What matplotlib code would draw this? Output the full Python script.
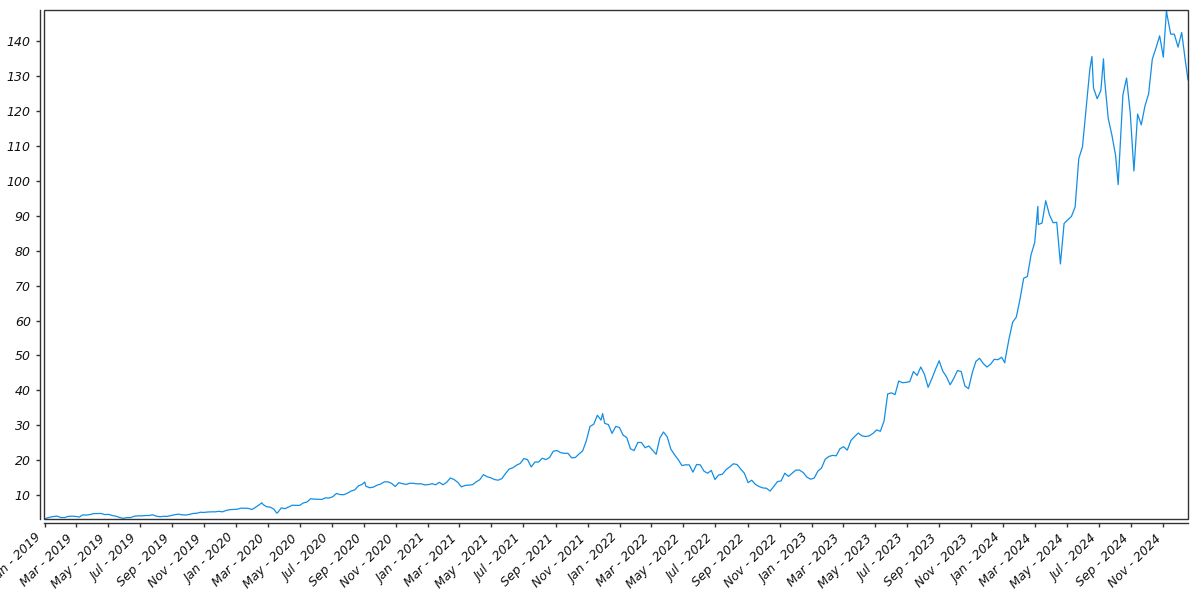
import os
import matplotlib
matplotlib.use("Agg")
import matplotlib.pyplot as plt
import matplotlib.dates as mdates
from matplotlib.patches import Rectangle
from matplotlib.font_manager import FontProperties
import pandas as pd

# Weekly (Friday) closing prices, split adjusted
prices_2019 = [3.40, 3.71, 3.91, 4.02,
               3.63, 3.60, 3.95, 4.00,
               3.95, 3.75, 4.37, 4.33, 4.49,
               4.75, 4.75, 4.78, 4.45,
               4.53, 4.20, 4.00, 3.63, 3.39,
               3.60, 3.60, 4.00, 4.10,
               4.08, 4.20, 4.20, 4.40,
               4.00, 3.85, 3.98, 3.95, 4.20,
               4.43, 4.58, 4.40, 4.33,
               4.53, 4.78, 4.85, 5.13,
               5.08, 5.20, 5.25, 5.25, 5.40,
               5.25, 5.65, 5.88, 5.95]
prices_2020 = [5.99, 6.30, 6.28, 6.25, 5.92,
               6.55, 7.28, 7.38, 6.70,
               6.60, 6.00, 5.00, 6.40,
               6.15, 6.65, 7.15, 7.10,
               7.10, 7.80, 8.08, 9.00, 8.88,
               8.83, 8.80, 9.25, 9.20,
               9.58, 10.50, 10.20, 10.15, 10.60,
               11.20, 11.55, 12.70, 13.10,
               12.60, 12.15, 12.30, 12.85,
               13.20, 13.80, 13.85, 13.40, 12.50,
               13.60, 13.30, 13.10, 13.45,
               13.40, 13.25, 13.30, 12.95]
prices_2021 = [13.05, 13.30, 13.00, 13.70, 13.00,
               13.70, 14.95, 14.50, 13.70,
               12.40, 12.80, 12.90, 13.00,
               13.80, 14.45, 15.90, 15.30, 15.00,
               14.50, 14.30, 14.75, 16.20,
               17.50, 17.85, 18.60, 19.10,
               20.50, 20.20, 18.10, 19.50, 19.50,
               20.60, 20.20, 20.80, 22.60,
               22.80, 22.20, 22.00, 22.00,
               20.70, 20.80, 21.80, 22.70, 25.60,
               29.70, 30.30, 32.90, 31.50,
               30.60, 30.20, 27.70, 29.70, 29.40]
prices_2022 = [27.20, 26.50, 23.30, 22.80,
               25.10, 25.10, 23.60, 24.10,
               22.90, 21.70, 26.40, 28.10,
               26.70, 23.20, 21.60, 20.20, 18.50,
               18.70, 18.70, 16.60, 18.80,
               18.70, 16.90, 16.30, 17.10,
               14.50, 15.80, 16.00, 17.30, 18.10,
               19.00, 18.80, 17.50, 16.30,
               13.60, 14.30, 13.10, 12.50, 12.10,
               12.00, 11.20, 12.50, 13.90,
               14.10, 16.30, 15.40, 16.30,
               17.20, 17.20, 16.50, 15.20, 14.60]
prices_2023 = [14.90, 16.90, 17.80, 20.30,
               21.10, 21.40, 21.30, 23.30,
               23.90, 22.90, 25.70, 26.80, 27.80,
               27.00, 26.80, 27.00, 27.70,
               28.70, 28.30, 31.20, 39.00,
               39.30, 38.80, 42.70, 42.20, 42.30,
               42.50, 45.40, 44.30, 46.70,
               44.60, 40.90, 43.30, 46.00,
               48.50, 45.50, 43.90, 41.60, 43.50,
               45.70, 45.40, 41.30, 40.50,
               45.00, 48.30, 49.20, 47.70,
               46.70, 47.50, 48.90, 48.80, 49.50]
prices_2024 = [49.00, 54.70, 59.50, 61.00,
               66.10, 72.10, 72.60, 78.80,
               82.30, 87.50, 87.90, 94.30, 90.30,
               88.00, 88.10, 76.20, 87.80,
               88.80, 89.80, 92.50, 106.40, 109.70,
               120.90, 131.90, 126.60, 123.50,
               125.80, 129.20, 117.90, 113.10,
               107.30, 104.80, 124.60, 129.40, 119.40,
               102.80, 119.10, 116.00, 121.40,
               124.90, 134.80, 138.00, 141.50,
               135.40, 147.60, 141.98, 141.95, 138.25,
               142.44, 134.25]

# a few single days (highs, lows, first and last day)
extra_dates = ["2018-12-31", "2019-01-03", "2020-02-19", "2020-03-18",
               "2020-09-02", "2021-11-29", "2024-01-04", "2024-03-07",
               "2024-06-18", "2024-07-10", "2024-08-07", "2024-11-07",
               "2024-12-18"]
extra_prices = [3.34, 3.20, 7.85, 4.90,
                13.80, 33.38, 47.90, 92.67,
                135.58, 134.91, 98.91, 148.88,
                128.91]

yearly = {2019: prices_2019, 2020: prices_2020, 2021: prices_2021,
          2022: prices_2022, 2023: prices_2023, 2024: prices_2024}

parts = []
for year, vals in yearly.items():
    d = pd.date_range(f"{year}-01-01", periods=len(vals), freq="W-FRI")
    parts.append(pd.Series(vals, index=d))
parts.append(pd.Series(extra_prices, index=pd.to_datetime(extra_dates)))
series = pd.concat(parts).sort_index()
series = series[~series.index.duplicated(keep="last")]

# oblique tick font
oblique = os.path.join(matplotlib.get_data_path(), "fonts", "ttf", "DejaVuSans-Oblique.ttf")
if os.path.exists(oblique):
    tick_font = FontProperties(fname=oblique, size=9)
else:
    tick_font = FontProperties(family="DejaVu Sans", style="italic", size=9)

fig = plt.figure(figsize=(12, 6), dpi=100)
ax = fig.add_axes([44 / 1200, 81 / 600, 1144 / 1200, 509 / 600])

ax.plot(series.index, series.values, color="#118ee6", linewidth=0.9)

ax.set_xlim(series.index[0], series.index[-1])
ax.set_ylim(series.min(), series.max())

# frame plus offset axis lines
for s in ["top", "right"]:
    ax.spines[s].set_visible(False)
for s in ["left", "bottom"]:
    ax.spines[s].set_position(("outward", 3))
    ax.spines[s].set_color("#333333")
    ax.spines[s].set_linewidth(1.0)
ax.add_patch(Rectangle((0, 0), 1, 1, transform=ax.transAxes, fill=False,
                       edgecolor="#333333", linewidth=1.0, clip_on=False, zorder=5))

ax.xaxis.set_major_locator(mdates.MonthLocator(bymonth=[1, 3, 5, 7, 9, 11]))
ax.xaxis.set_major_formatter(mdates.DateFormatter("%b - %Y"))
ax.set_yticks(range(10, 150, 10))

ax.tick_params(axis="both", direction="out", length=3, width=1, color="#333333",
               labelcolor="#111111")
fig.canvas.draw()
for lab in ax.get_yticklabels():
    lab.set_fontproperties(tick_font)
for lab in ax.get_xticklabels():
    lab.set_fontproperties(tick_font)
    lab.set_rotation(45)
    lab.set_ha("right")

fig.savefig("out.png", dpi=100)
